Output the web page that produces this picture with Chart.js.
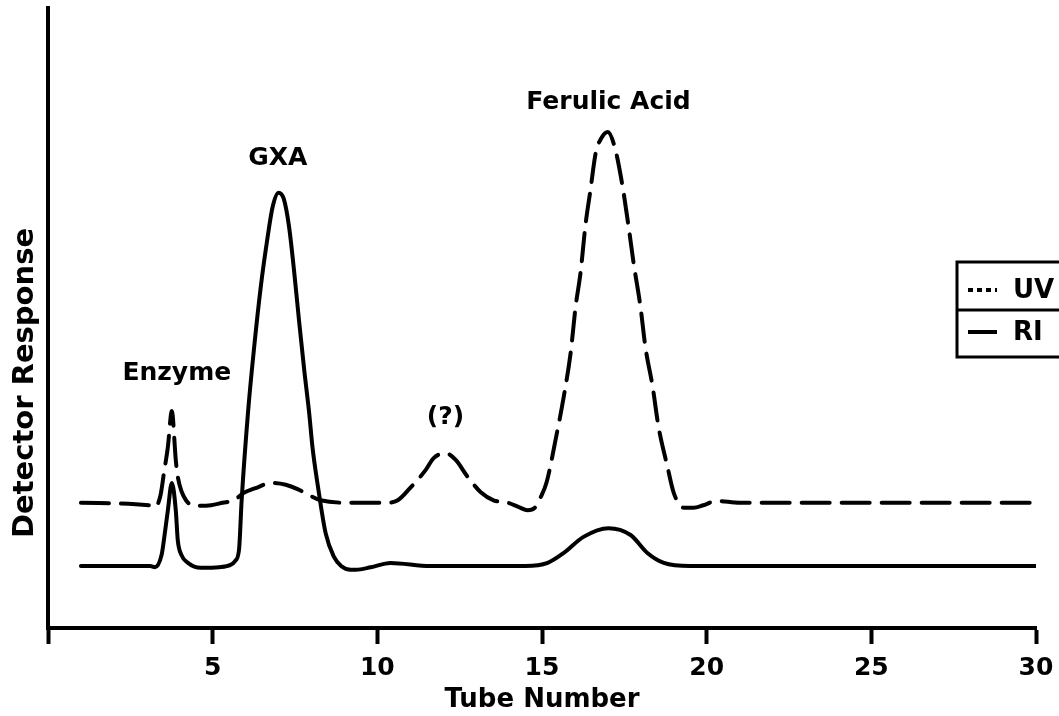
<!DOCTYPE html>
<html><head><meta charset="utf-8">
<script src="https://cdn.jsdelivr.net/npm/chart.js@4"></script>
<style>html,body{margin:0;padding:0;background:#fff;overflow:hidden;}#wrap{width:1059px;height:716px;position:relative;}</style>
</head><body><div id="wrap"><canvas id="c"></canvas></div>
<script>
// ---- data ----
const tubeTicks = [5, 10, 15, 20, 25, 30];
const seriesLabels = ["UV", "RI"];
const axisTitles = ["Tube Number", "Detector Response"];

const riTube = [1.0, 3.1, 3.25, 3.45, 3.52, 3.64, 3.76, 3.88, 3.94, 4.05, 4.25, 4.64, 5.2, 5.55, 5.68, 5.8, 5.88, 6.08, 6.26, 6.46, 6.67, 6.82, 7.0, 7.16, 7.32, 7.47, 7.62, 7.78, 7.93, 8.03, 8.2, 8.43, 8.68, 8.9, 9.19, 9.35, 9.8, 10.4, 11.6, 14.5, 15.17, 15.66, 16.26, 17.02, 17.69, 18.2, 18.7, 19.5, 30];
const riResponse = [10.0, 10.0, 9.8, 11.8, 14.2, 19.0, 23.4, 19.0, 14.2, 11.8, 10.5, 9.7, 9.8, 10.2, 10.8, 12.6, 20.6, 35.2, 45.3, 55.0, 63.1, 67.9, 70.2, 69.2, 64.7, 57.7, 49.7, 41.6, 34.7, 29.2, 22.7, 15.3, 11.5, 10.0, 9.4, 9.4, 9.8, 10.5, 10.0, 10.0, 10.5, 12.1, 14.7, 16.1, 15.0, 12.1, 10.5, 10.0, 10.0];

const uvTube = [1.0, 3.06, 3.25, 3.42, 3.52, 3.64, 3.76, 3.88, 3.94, 4.19, 4.55, 4.95, 5.3, 5.64, 5.95, 6.37, 6.77, 7.22, 7.58, 7.9, 8.28, 9.19, 10.3, 10.62, 11.0, 11.47, 11.71, 12.07, 12.38, 12.74, 13.14, 13.53, 13.96, 14.3, 14.56, 14.8, 14.96, 15.14, 15.41, 15.66, 15.87, 16.02, 16.17, 16.32, 16.47, 16.63, 16.8, 17.0, 17.23, 17.45, 17.63, 17.78, 17.99, 18.14, 18.36, 18.54, 18.81, 19.0, 19.3, 19.6, 19.9, 20.3, 21.0, 30];
const uvResponse = [20.2, 19.8, 19.5, 21.5, 25.0, 29.2, 35.0, 27.1, 24.4, 20.6, 19.7, 19.8, 20.2, 20.6, 21.8, 22.7, 23.4, 23.1, 22.4, 21.5, 20.6, 20.2, 20.2, 20.6, 22.6, 25.5, 27.4, 28.2, 27.1, 24.4, 21.9, 20.6, 20.2, 19.5, 19.0, 19.5, 21.1, 23.5, 30.3, 37.3, 44.4, 51.8, 57.3, 65.0, 70.6, 76.6, 79.0, 80.0, 77.1, 71.1, 64.7, 58.9, 51.8, 45.3, 38.9, 32.4, 26.0, 21.8, 19.4, 19.4, 19.8, 20.5, 20.2, 20.2];

const peakLabels = ["Enzyme", "GXA", "(?)", "Ferulic Acid"];
const peakLabelTube = [3.91, 6.98, 12.07, 17.02];
const peakLabelResponse = [41.1, 75.8, 34.0, 84.8];

// ---- chart ----
const FONT = '"DejaVu Sans", sans-serif';
const toPts = (xs, ys) => xs.map((x, i) => ({ x: x, y: ys[i] }));

const overlay = {
  id: 'overlay',
  afterDraw(chart) {
    const ctx = chart.ctx, xs = chart.scales.x, ys = chart.scales.y, ca = chart.chartArea;
    ctx.save();
    ctx.fillStyle = '#000';
    ctx.textAlign = 'center';
    ctx.textBaseline = 'middle';
    ctx.font = 'bold 25px ' + FONT;
    peakLabels.forEach((t, i) => {
      ctx.fillText(t, xs.getPixelForValue(peakLabelTube[i]), ys.getPixelForValue(peakLabelResponse[i]));
    });
    // y-axis title
    ctx.save();
    ctx.translate(25, ca.bottom - 245);
    ctx.rotate(-Math.PI / 2);
    ctx.font = 'bold 29px ' + FONT;
    ctx.fillText(axisTitles[1], 0, 0);
    ctx.restore();
    // legend box
    const L = ca.right - 79, T = ca.top + 254, M = T + 48, B = T + 95;
    ctx.strokeStyle = '#000';
    ctx.lineWidth = 3;
    ctx.beginPath();
    ctx.moveTo(chart.width + 10, T); ctx.lineTo(L, T); ctx.lineTo(L, B); ctx.lineTo(chart.width + 10, B);
    ctx.moveTo(L, M); ctx.lineTo(chart.width + 10, M);
    ctx.stroke();
    const rows = [T + 28, M + 22];
    chart.data.datasets.forEach((ds, i) => {
      const y = rows[i];
      ctx.lineWidth = 4;
      ctx.setLineDash(ds.borderDash && ds.borderDash.length ? [5, 4] : []);
      ctx.beginPath(); ctx.moveTo(L + 11, y); ctx.lineTo(L + 40, y); ctx.stroke();
      ctx.setLineDash([]);
      ctx.textAlign = 'left';
      ctx.font = 'bold 26px ' + FONT;
      ctx.fillText(ds.label, L + 56, y + 1);
    });
    ctx.restore();
  }
};

new Chart(document.getElementById('c'), {
  type: 'line',
  data: {
    datasets: [
      { label: seriesLabels[0], data: toPts(uvTube, uvResponse), borderColor: '#000', borderWidth: 4,
        borderDash: [28, 12], borderCapStyle: 'round', pointRadius: 0, fill: false, cubicInterpolationMode: 'monotone' },
      { label: seriesLabels[1], data: toPts(riTube, riResponse), borderColor: '#000', borderWidth: 4,
        borderCapStyle: 'round', borderJoinStyle: 'round', pointRadius: 0, fill: false, cubicInterpolationMode: 'monotone' }
    ]
  },
  options: {
    responsive: true, maintainAspectRatio: false, animation: false, devicePixelRatio: 1,
    layout: { padding: { left: 48, right: 23, top: 8, bottom: 0 } },
    plugins: { legend: { display: false }, tooltip: { enabled: false } },
    scales: {
      x: {
        type: 'linear', min: 0, max: 30,
        ticks: { stepSize: 5, autoSkip: false, maxRotation: 0, padding: 12, color: '#000',
          font: { family: FONT, size: 25, weight: 'bold', lineHeight: 1.0 },
          callback: v => tubeTicks.includes(v) ? String(v) : '' },
        grid: { display: true, drawOnChartArea: false, drawTicks: true, tickLength: 16, tickWidth: 4, tickColor: '#000', color: '#000' },
        border: { display: true, color: '#000', width: 4 },
        title: { display: true, text: axisTitles[0], color: '#000', font: { family: FONT, size: 26, weight: 'bold', lineHeight: 1.0 }, padding: { top: 8, bottom: 3 } },
        afterFit: s => { s.height = 88; s.paddingRight = 0; s.paddingLeft = 0; }
      },
      y: {
        min: 0, max: 100,
        ticks: { display: false },
        grid: { display: false },
        border: { display: true, color: '#000', width: 4 },
        afterFit: s => { s.width = 0; }
      }
    }
  },
  plugins: [overlay]
});
</script>
</body></html>
